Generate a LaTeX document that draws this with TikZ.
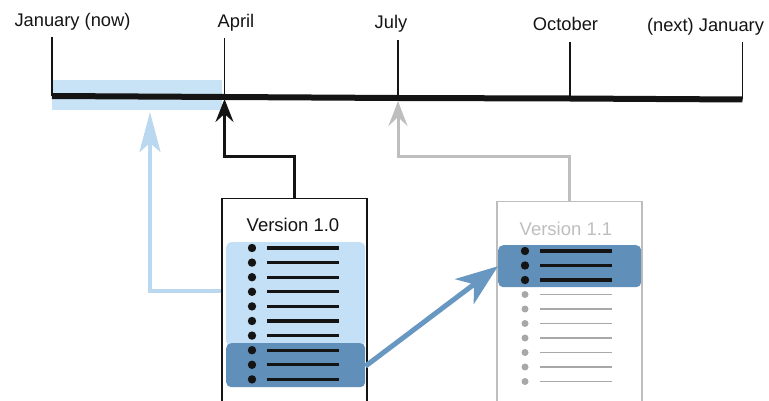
\documentclass[tikz,border=0pt]{standalone}
\usepackage{fontspec}
\setmainfont{Liberation Sans}
\usetikzlibrary{arrows.meta,calc}

\definecolor{bandblue}{RGB}{200,226,246}
\definecolor{paleblue}{RGB}{186,216,240}
\definecolor{regblue}{RGB}{196,224,246}
\definecolor{deepblue}{RGB}{96,144,186}
\definecolor{arrowblue}{RGB}{104,152,194}
\definecolor{palegray}{RGB}{190,190,190}
\definecolor{dotgray}{RGB}{168,168,168}
\definecolor{inkblack}{RGB}{20,20,20}

\tikzset{
  month/.style={font=\fontsize{18.3}{20}\selectfont, anchor=base, inner sep=0pt, text=inkblack},
  tick/.style={draw=inkblack, line width=1.6pt},
  page/.style={draw, line width=1.4pt, anchor=north, minimum width=145pt, minimum height=215pt, inner sep=0pt},
  title/.style={font=\fontsize{18.5}{20}\selectfont, inner sep=0pt, anchor=base},
  region/.style={rounded corners=5pt, anchor=north west, inner sep=0pt},
  blackarrow/.style={draw=inkblack, line width=3pt,
    -{Stealth[length=23pt,width=18pt,inset=8pt]}},
  bluearrow/.style={draw=paleblue, line width=4pt,
    -{Stealth[length=40pt,width=21pt,inset=9pt]}},
  grayarrow/.style={draw=palegray, line width=3pt,
    -{Stealth[length=25pt,width=19pt,inset=9pt]}},
  movearrow/.style={draw=arrowblue, line width=5pt,
    -{Stealth[length=42pt,width=31pt,inset=12pt]}},
}

\begin{document}
\begin{tikzpicture}[x=1pt,y=-1pt]
\useasboundingbox (0,0) rectangle (769,401);
\clip (0,0) rectangle (769,401);

% month labels
\node[month] (lJan) at (72.5,27) {January (now)};
\node[month] (lApr) at (236,27.5) {April};
\node[month] (lJul) at (391,28.5) {July};
\node[month] (lOct) at (565.5,30.5) {October};
\node[month] (lNext) at (705.5,32) {(next) January};

% positions on the time axis
\coordinate (jan) at (52,96);
\coordinate (apr) at (224.5,97);
\coordinate (jul) at (398,98);
\coordinate (oct) at (570,98.5);
\coordinate (nxt) at (742.5,99.5);

% the first quarter, highlighted
\fill[bandblue] (52,80) rectangle (222,110);

% ticks and axis
\draw[tick] (jan) -- ++(0,-59);
\draw[tick] (apr) -- ++(0,-59);
\draw[tick] (jul) -- ++(0,-58);
\draw[tick] (oct) -- ++(0,-56);
\draw[tick] (nxt) -- ++(0,-57);
\draw[draw=inkblack, line width=6pt] (jan) -- (apr) -- (jul) -- (oct) -- (nxt);

% release boxes
\node[page, draw=inkblack] (v10) at (294.5,198) {};
\node[page, draw=palegray, line width=1.1pt] (v11) at (569.5,201) {};

\node[title, text=inkblack] (t10) at (293,232) {Version 1.0};
\node[title, text=palegray] (t11) at (566,235) {Version 1.1};

% feature groups
\node[region, fill=regblue, minimum width=139pt, minimum height=104pt] (r10a) at (226,242) {};
\node[region, fill=deepblue, minimum width=139pt, minimum height=44pt] (r10b) at (226,343) {};
\node[region, fill=deepblue, minimum width=143pt, minimum height=42pt] (r11a) at (498,245) {};

% feature rows of version 1.0
\foreach \i in {0,...,9} {
  \fill[inkblack] (252,248+14.6*\i) circle (4.2pt);
  \draw[inkblack, line width=3.2pt] (267,248+14.6*\i) -- (339,248+14.6*\i);
}
% feature rows of version 1.1
\foreach \i in {0,1,2} {
  \fill[inkblack] (525,251+14.5*\i) circle (4.2pt);
  \draw[inkblack, line width=3.2pt] (540,251+14.5*\i) -- (612,251+14.5*\i);
}
\foreach \i in {3,...,9} {
  \fill[dotgray] (525,251+14.5*\i) circle (3.5pt);
  \draw[dotgray, line width=1.8pt] (540,251+14.5*\i) -- (612,251+14.5*\i);
}

% release connectors
\coordinate (kApr) at (224.5,157);
\coordinate (kJul) at (398,157);
\coordinate (kNow) at (150,291);
\coordinate (bandFoot) at (150,112);
\draw[blackarrow] (v10.north) |- (kApr) -- ($(apr)+(0,2)$);
\draw[bluearrow] (v10.west |- kNow) -- (kNow) -- (bandFoot);
\draw[grayarrow] (v11.north) |- (kJul) -- ($(jul)+(0,3)$);

% features moved to the next release
\draw[movearrow] ($(r10b.east)+(0,1)$) -- (r11a.west);
\end{tikzpicture}
\end{document}
